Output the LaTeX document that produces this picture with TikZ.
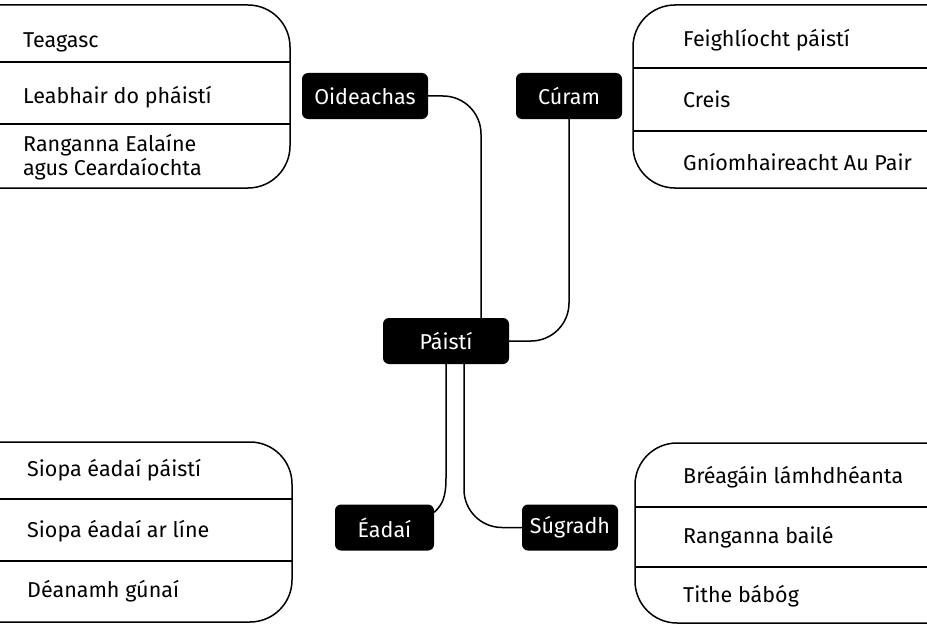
\documentclass[tikz,border=0pt]{standalone}
\usepackage{fontspec}
\setmainfont{Fira Sans}
\begin{document}
\begin{tikzpicture}[x=1pt,y=1pt,
  grp/.style={line width=1.5pt, rounded corners=42pt},
  sep/.style={line width=1.5pt},
  item/.style={anchor=west, inner sep=0pt, font=\fontsize{21.5}{24}\selectfont, align=left},
  hub/.style={fill=black, text=white, rounded corners=6pt, minimum height=46pt, inner sep=0pt, font=\fontsize{21.5}{23}\selectfont},
  link/.style={line width=1.5pt, rounded corners=38pt}]
\useasboundingbox (0,0) rectangle (927,-626);
% top-left group
\draw[grp] (0,-5) -- (290,-5) -- (290,-188) -- (0,-188);
\draw[sep] (0,-62) -- (290,-62);
\draw[sep] (0,-124) -- (290,-124);
\node[item] (a1) at (23,-42) {Teagasc};
\node[item] (a2) at (23,-97) {Leabhair do pháistí};
\node[item] (a3) at (23,-157) {Ranganna Ealaíne\\agus Ceardaíochta};
% top-right group
\draw[grp] (927,-5) -- (633,-5) -- (633,-188) -- (927,-188);
\draw[sep] (633,-68) -- (927,-68);
\draw[sep] (633,-131) -- (927,-131);
\node[item] (b1) at (683,-40) {Feighlíocht páistí};
\node[item] (b2) at (683,-99) {Creis};
\node[item] (b3) at (683,-162) {Gníomhaireacht Au Pair};
% bottom-left group
\draw[grp] (0,-442) -- (292,-442) -- (292,-622) -- (0,-622);
\draw[sep] (0,-499) -- (292,-499);
\draw[sep] (0,-561) -- (292,-561);
\node[item] (c1) at (27,-470) {Siopa éadaí páistí};
\node[item] (c2) at (27,-531) {Siopa éadaí ar líne};
\node[item] (c3) at (27,-591) {Déanamh gúnaí};
% bottom-right group
\draw[grp] (927,-443) -- (635,-443) -- (635,-623) -- (927,-623);
\draw[sep] (635,-507) -- (927,-507);
\draw[sep] (635,-567) -- (927,-567);
\node[item] (d1) at (683,-477) {Bréagáin lámhdhéanta};
\node[item] (d2) at (683,-537) {Ranganna bailé};
\node[item] (d3) at (683,-596) {Tithe bábóg};
% hubs
\node[hub, minimum width=126pt] (oid) at (365,-96) {Oideachas};
\node[hub, minimum width=106pt] (cur) at (569,-96) {Cúram};
\node[hub, minimum width=126pt] (pai) at (446,-341) {Páistí};
\node[hub, minimum width=99pt] (ead) at (384.5,-527.5) {Éadaí};
\node[hub, minimum width=96pt] (sug) at (570,-527.5) {Súgradh};
% connectors
\draw[link] (oid.east) -| ([xshift=35pt]pai.north);
\draw[link] (cur.south) |- (pai.east);
\draw[link] ([xshift=18pt]pai.south) |- (sug.west);
\draw[line width=1.5pt] (pai.south) -- (446,-478) .. controls (446,-498) and (442,-505) .. ([yshift=-8pt]ead.north east);
\end{tikzpicture}
\end{document}
